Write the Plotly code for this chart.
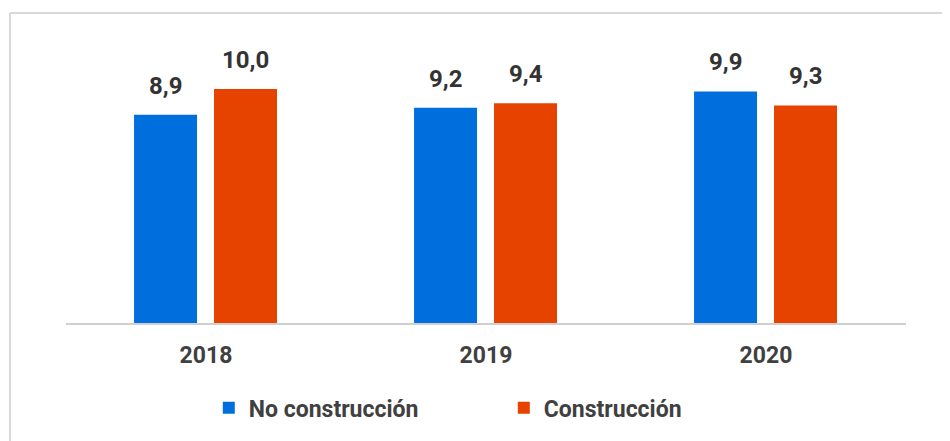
import plotly.graph_objects as go

years = ["2018", "2019", "2020"]
no_construccion = [8.9, 9.2, 9.9]
construccion = [10.0, 9.4, 9.3]
series_names = ["No construcción", "Construcción"]
colors = ["#006FDE", "#E64200"]

fig = go.Figure()
bar_w = 0.225
offsets = [-0.257, 0.0286]
for name, vals, col, off in zip(series_names, [no_construccion, construccion], colors, offsets):
    fig.add_trace(go.Bar(
        x=years, y=vals, name=name, marker=dict(color=col, line=dict(width=0)),
        width=bar_w, offset=off, hoverinfo="skip",
    ))
    for i, v in enumerate(vals):
        fig.add_annotation(
            x=i + off + bar_w / 2, y=v, xref="x", yref="y", text=f"{v:.1f}".replace(".", ","),
            showarrow=False, yanchor="bottom", yshift=13,
            font=dict(family="Roboto", size=24, color="#333333", weight="bold"),
        )

fig.update_layout(
    width=942, height=433,
    margin=dict(l=58, r=44, t=32, b=118),
    barmode="overlay",
    plot_bgcolor="white", paper_bgcolor="white",
    showlegend=True,
    legend=dict(orientation="h", x=0.17, xanchor="left", y=-0.30, yanchor="middle",
                font=dict(family="Roboto", size=23, color="#404040", weight="bold"),
                itemsizing="constant", traceorder="normal", itemwidth=30, entrywidth=250),
    xaxis=dict(type="category", range=[-0.5, 2.5], autorange=False, showline=True,
               linecolor="#D0D0D0", linewidth=2,
               tickfont=dict(family="Roboto", size=23, color="#404040", weight="bold"),
               ticks="", ticklabelstandoff=10, showgrid=False, zeroline=False, fixedrange=True),
    yaxis=dict(range=[0, 12.1], autorange=False, visible=False, showgrid=False,
               zeroline=False, fixedrange=True),
    shapes=[
        dict(type="line", xref="paper", yref="paper", x0=-0.0667, x1=-0.0667, y0=-0.45, y1=1.095,
             line=dict(color="#D9D9D9", width=2)),
        dict(type="line", xref="paper", yref="paper", x0=-0.0667, x1=1.06, y0=1.095, y1=1.095,
             line=dict(color="#D9D9D9", width=2)),
    ],
)

fig.write_html("out.html")
